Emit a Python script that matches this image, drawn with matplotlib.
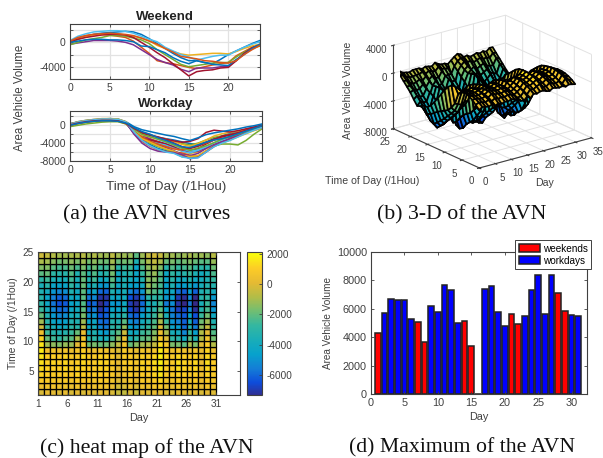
import numpy as np
import matplotlib
matplotlib.use("Agg")
import matplotlib.pyplot as plt
from matplotlib.colors import LinearSegmentedColormap

W, H = 603, 458
plt.rcParams["font.family"] = ["Liberation Sans", "DejaVu Sans"]
plt.rcParams["font.size"] = 7.2
plt.rcParams["axes.unicode_minus"] = False

# hourly AVN per day, hours 0-24, in hundreds of vehicles
days = list(range(1, 32))
hours = list(range(25))
avn = {
    1: [0, 5, 10, 13, 15, 16, 17, 18, 17, 13, 6, -2, -10, -18, -25, -30, -30, -33, -35, -28, -20, -14, -8, -2, 3],
    2: [3, 7, 10, 12, 13, 13, 12, 6, -10, -18, -24, -27, -30, -33, -37, -41, -43, -38, -30, -24, -18, -14, -9, -4, 0],
    3: [2, 6, 9, 11, 12, 13, 12, 7, -12, -24, -30, -36, -42, -47, -52, -56, -54, -48, -42, -34, -28, -20, -13, -7, -3],
    4: [1, 5, 8, 11, 12, 12, 11, 5, -14, -27, -33, -40, -46, -52, -58, -63, -60, -52, -44, -36, -30, -23, -16, -9, -4],
    5: [3, 7, 10, 12, 14, 14, 13, 7, -11, -22, -31, -38, -44, -50, -57, -61, -58, -50, -43, -36, -30, -22, -15, -9, -5],
    6: [0, 4, 7, 9, 10, 10, 9, 4, -11, -20, -25, -28, -32, -36, -41, -44, -40, -33, -27, -24, -21, -17, -12, -8, -3],
    7: [2, 7, 11, 13, 13, 12, 10, 8, 2, -8, -18, -30, -33, -35, -38, -41, -43, -40, -37, -35, -33, -22, -15, -8, -3],
    8: [0, 5, 9, 12, 13, 14, 14, 12, 10, 7, 3, -5, -10, -15, -19, -21, -20, -19, -18, -18, -19, -15, -10, -6, -3],
    9: [2, 6, 9, 11, 12, 12, 11, 6, -16, -30, -37, -40, -44, -50, -58, -62, -56, -48, -40, -33, -29, -23, -16, -10, -5],
    10: [1, 5, 8, 10, 11, 11, 10, 5, -15, -28, -33, -37, -41, -48, -54, -58, -52, -42, -33, -24, -21, -17, -12, -7, -3],
    11: [3, 7, 10, 12, 13, 14, 13, 7, -18, -35, -43, -52, -57, -62, -70, -73, -70, -58, -47, -40, -32, -24, -16, -9, -4],
    12: [2, 6, 9, 11, 13, 13, 12, 6, -17, -36, -47, -55, -59, -60, -62, -67, -70, -60, -48, -38, -30, -24, -17, -10, -5],
    13: [0, 4, 7, 9, 10, 9, 9, 3, -12, -22, -26, -28, -31, -36, -43, -47, -41, -33, -24, -19, -16, -13, -9, -5, -1],
    14: [-3, -1, 1, 3, 3, 3, 2, 0, -4, -12, -20, -28, -33, -37, -44, -48, -42, -42, -42, -40, -39, -30, -18, -9, -4],
    15: [-4, 0, 4, 6, 8, 11, 11, 10, 7, 4, -2, -12, -20, -28, -36, -40, -38, -36, -34, -33, -33, -24, -16, -10, -6],
    16: [1, 5, 8, 10, 12, 12, 11, 6, -18, -33, -38, -44, -50, -57, -65, -68, -63, -52, -44, -37, -30, -24, -17, -11, -6],
    17: [-3, 0, 3, 5, 7, 8, 8, 3, -13, -28, -40, -48, -54, -60, -70, -72, -69, -58, -46, -42, -42, -44, -34, -20, -8],
    18: [2, 6, 9, 11, 13, 13, 12, 7, -9, -20, -25, -32, -38, -45, -53, -58, -55, -48, -39, -32, -26, -21, -15, -10, -4],
    19: [1, 5, 8, 10, 12, 12, 11, 6, -7, -18, -22, -26, -31, -35, -38, -36, -30, -16, -11, -13, -15, -12, -8, -4, 0],
    20: [3, 8, 11, 13, 14, 15, 14, 8, -3, -10, -14, -18, -22, -25, -30, -34, -28, -21, -17, -14, -11, -8, -4, -1, 3],
    21: [3, 10, 14, 17, 18, 19, 19, 18, 15, 10, 5, 1, -8, -14, -20, -24, -29, -26, -23, -21, -21, -14, -8, -3, 1],
    22: [1, 5, 8, 10, 12, 13, 13, 12, 8, 0, -8, -17, -25, -35, -45, -55, -48, -46, -45, -42, -41, -30, -18, -9, -4],
    23: [0, 4, 7, 9, 11, 11, 10, 5, -15, -27, -36, -42, -48, -53, -55, -50, -46, -40, -33, -29, -27, -21, -15, -9, -3],
    24: [3, 8, 11, 13, 15, 15, 14, 8, -15, -30, -38, -46, -53, -58, -67, -70, -68, -57, -46, -40, -33, -26, -19, -12, -6],
    25: [2, 6, 9, 12, 13, 13, 12, 6, -20, -40, -52, -58, -60, -61, -66, -75, -72, -60, -46, -38, -30, -23, -16, -10, -5],
    26: [1, 5, 8, 10, 12, 12, 11, 5, -8, -20, -26, -31, -37, -44, -51, -56, -51, -46, -39, -31, -25, -20, -14, -8, -3],
    27: [2, 7, 10, 12, 14, 14, 13, 7, -15, -34, -46, -54, -60, -63, -71, -74, -73, -60, -48, -40, -34, -26, -18, -11, -5],
    28: [0, 2, 4, 5, 5, 4, 4, 3, 1, -6, -7, -12, -17, -25, -31, -35, -30, -33, -36, -37, -38, -28, -20, -10, -3],
    29: [2, 8, 11, 13, 14, 15, 14, 13, 11, 7, 2, -3, -10, -16, -23, -25, -27, -30, -31, -33, -34, -30, -20, -12, -5],
    30: [1, 5, 8, 10, 11, 11, 10, 4, -7, -16, -21, -27, -33, -40, -48, -52, -47, -38, -31, -26, -22, -17, -11, -6, -1],
    31: [0, 4, 7, 9, 10, 10, 9, 5, -5, -14, -20, -28, -34, -41, -48, -50, -44, -38, -33, -30, -25, -19, -13, -7, -1],
}
weekend_days = [1, 7, 8, 14, 15, 21, 22, 28, 29]
workday_days = [d for d in days if d not in weekend_days]

# maximum bars
max_weekend = [4300, 5100, 3650, 5150, 3400, 5600, 4900, 7100, 5850]
max_workday = [5700, 6700, 6650, 6650, 5300, 6200, 5750, 7650, 7300, 5000,
               0, 7400, 7600, 5800, 4800, 5500, 7300, 8400, 5650, 8400, 5550, 5500]

line_colors = ["#0072BD", "#D95319", "#EDB120", "#7E2F8E", "#77AC30", "#4DBEEE", "#A2142F"]
parula = LinearSegmentedColormap.from_list("parula", [
    (0.2081, 0.1663, 0.5292), (0.0530, 0.3000, 0.8600), (0.0780, 0.4960, 0.8400),
    (0.0280, 0.6360, 0.8000), (0.1000, 0.6800, 0.7200), (0.2000, 0.7180, 0.6300),
    (0.4400, 0.7450, 0.4500), (0.7000, 0.7400, 0.2800), (0.9000, 0.7300, 0.2000),
    (0.9900, 0.8000, 0.1500), (0.9763, 0.9831, 0.0538)])
GRAY = "#404040"


def axes_px(fig, left, top, right, bottom, **kw):
    return fig.add_axes([left / W, 1 - bottom / H, (right - left) / W, (bottom - top) / H], **kw)


def style(ax):
    for s in ax.spines.values():
        s.set_color(GRAY)
        s.set_linewidth(0.8)
    ax.tick_params(direction="in", length=2, width=0.6, colors=GRAY, top=True, right=True, pad=3)


Z = np.array([avn[d] for d in days]).T * 100
X, Y = np.meshgrid(days, np.array(hours) + 1)

fig = plt.figure(figsize=(W / 100, H / 100), dpi=100)

# (a) curves
ax1 = axes_px(fig, 70, 24, 260, 79)
for i, d in enumerate(weekend_days):
    ax1.plot(hours, np.array(avn[d]) * 100, color=line_colors[i % 7], lw=1.1)
ax1.set_xlim(0, 24)
ax1.set_ylim(-6000, 3000)
ax1.set_xticks([0, 5, 10, 15, 20])
ax1.set_yticks([-6000, -4000, -2000, 0, 2000])
ax1.set_yticklabels(["", "-4000", "", "0", ""])
ax1.grid(color="#e2e2e2", lw=0.9)
ax1.set_axisbelow(True)
style(ax1)
ax1.tick_params(labelsize=7.5)
ax1.set_title("Weekend", fontsize=9.5, fontweight="bold", pad=3, color="#222222")

ax2 = axes_px(fig, 70, 111, 262, 161)
for i, d in enumerate(workday_days):
    ax2.plot(hours, np.array(avn[d]) * 100, color=line_colors[i % 7], lw=1.1)
ax2.set_xlim(0, 24)
ax2.set_ylim(-8000, 3200)
ax2.set_xticks([0, 5, 10, 15, 20])
ax2.set_yticks([-8000, -6000, -4000, -2000, 0, 2000])
ax2.set_yticklabels(["-8000", "", "-4000", "", "0", ""])
ax2.grid(color="#e2e2e2", lw=0.9)
ax2.set_axisbelow(True)
style(ax2)
ax2.tick_params(labelsize=7.5)
ax2.set_title("Workday", fontsize=9.5, fontweight="bold", pad=3, color="#222222")
ax2.set_xlabel("Time of Day (/1Hou)", fontsize=9.6, color=GRAY, labelpad=4)
fig.text(20 / W, 1 - 98 / H, "Area Vehicle Volume", rotation=90, fontsize=8.3, color=GRAY,
         ha="center", va="center")

# (b) 3-D surface
ax3 = axes_px(fig, 385, 4, 595, 184, projection="3d")
ax3.set_proj_type("ortho")
ax3.view_init(elev=20.5, azim=-127.5)
ax3.set_box_aspect((1, 1, 0.63), zoom=1.18)
ax3.plot_surface(X, Y, Z, cmap=parula, vmin=-7350, vmax=2150, rstride=1, cstride=1,
                 edgecolor="black", linewidth=1.25, shade=False)
ax3.set_xlim(0, 35)
ax3.set_ylim(0, 25)
ax3.set_zlim(-8000, 4000)
ax3.set_xticks(range(0, 36, 5))
ax3.set_yticks(range(0, 26, 5))
ax3.set_zticks([-8000, -4000, 0, 4000])
ax3.tick_params(labelsize=7, colors=GRAY, pad=-3)
for axis in (ax3.xaxis, ax3.yaxis, ax3.zaxis):
    axis.set_pane_color((1, 1, 1, 1))
    axis._axinfo["grid"].update(color="#e2e2e2", linewidth=0.7)
    axis.line.set_color(GRAY)
ax3.zaxis.set_ticks_position("upper")
ax3.tick_params(axis="z", pad=-6)
for t in ax3.zaxis.get_ticklabels():
    t.set_ha("right")
fig.text(348 / W, 1 - 90 / H, "Area Vehicle Volume", rotation=90, fontsize=7.6, color=GRAY,
         ha="center", va="center")
fig.text(372 / W, 1 - 181 / H, "Time of Day (/1Hou)", fontsize=7.6, color=GRAY, ha="center", va="center")
fig.text(544 / W, 1 - 183 / H, "Day", fontsize=7.6, color=GRAY, ha="center", va="center")

# (c) heat map
ax4 = axes_px(fig, 38, 252, 240, 395)
mesh = ax4.pcolormesh(X, Y, Z[:-1, :-1], cmap=parula, vmin=-7350, vmax=2150,
                      edgecolors="black", linewidth=0.9, shading="flat", antialiased=True)
ax4.set_xlim(1, 35)
ax4.set_ylim(1, 25)
ax4.set_xticks([1, 6, 11, 16, 21, 26, 31])
ax4.set_yticks([5, 10, 15, 20, 25])
style(ax4)
ax4.set_xlabel("Day", fontsize=7.8, color=GRAY, labelpad=3)
ax4.set_ylabel("Time of Day (/1Hou)", fontsize=7.4, color=GRAY, labelpad=3.5)
cax = axes_px(fig, 247, 252, 262, 395)
cb = fig.colorbar(mesh, cax=cax)
cb.set_ticks([2000, 0, -2000, -4000, -6000])
cb.solids.set_edgecolor("face")
cb.outline.set_edgecolor(GRAY)
cax.tick_params(direction="in", length=2, width=0.6, colors=GRAY, pad=3)

# (d) maximum bars
ax5 = axes_px(fig, 371, 252, 587, 394)
ax5.bar(weekend_days, max_weekend, width=0.85, color="red", edgecolor="#222222", lw=1.1, label="weekends")
ax5.bar(workday_days, max_workday, width=0.85, color="blue", edgecolor="#222222", lw=1.1, label="workdays")
ax5.set_xlim(0, 32.3)
ax5.set_ylim(0, 10000)
ax5.set_xticks([0, 5, 10, 15, 20, 25, 30])
ax5.set_yticks([0, 2000, 4000, 6000, 8000, 10000])
style(ax5)
ax5.tick_params(labelsize=7.8)
ax5.set_xlabel("Day", fontsize=7.8, color=GRAY, labelpad=3)
ax5.set_ylabel("Area Vehicle Volume", fontsize=7.2, color=GRAY, labelpad=3)
leg = ax5.legend(loc="upper right", bbox_to_anchor=(591 / W, 1 - 240 / H), bbox_transform=fig.transFigure,
                 fontsize=7.2, handlelength=2.1, handleheight=0.9, labelspacing=0.2, handletextpad=0.3,
                 borderpad=0.35, borderaxespad=0, fancybox=False, framealpha=1, edgecolor=GRAY)
leg.get_frame().set_linewidth(0.7)

# captions
serif = dict(family="Liberation Serif", fontsize=15.7, color="#111111", ha="center", va="center")
fig.text(147 / W, 1 - 215 / H, "(a) the AVN curves", **serif)
fig.text(462 / W, 1 - 215 / H, "(b) 3-D of the AVN", **serif)
fig.text(147 / W, 1 - 448 / H, "(c) heat map of the AVN", **serif)
fig.text(462 / W, 1 - 448 / H, "(d) Maximum of the AVN", **serif)

fig.savefig("out.png", dpi=100)
